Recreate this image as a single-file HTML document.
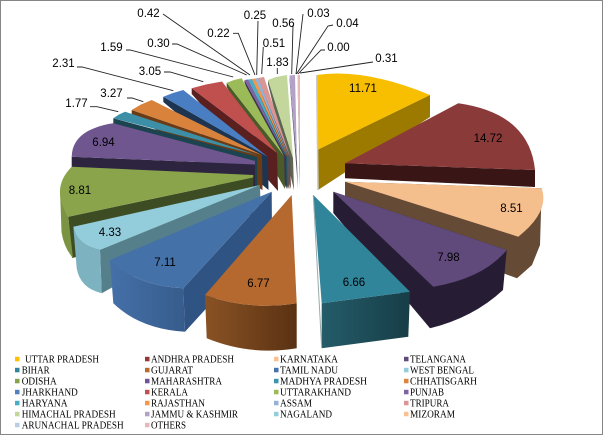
<!DOCTYPE html>
<html><head><meta charset="utf-8"><style>
html,body{margin:0;padding:0;background:#fff;}
svg{display:block;}
.l{font-family:"Liberation Sans",sans-serif;font-size:11.5px;fill:#000;}
.g{font-family:"Liberation Serif",serif;font-size:11px;fill:#000;}
</style></head><body>
<svg width="603" height="435" viewBox="0 0 603 435" xmlns="http://www.w3.org/2000/svg">
<defs>
<linearGradient id="gj" x1="0" y1="0" x2="1" y2="0"><stop offset="0" stop-color="#8A5224"/><stop offset="1" stop-color="#5A3213"/></linearGradient>
<linearGradient id="bh" x1="0" y1="0" x2="1" y2="0"><stop offset="0" stop-color="#245C69"/><stop offset="1" stop-color="#173D47"/></linearGradient>
<linearGradient id="tn" x1="0" y1="0" x2="1" y2="0"><stop offset="0" stop-color="#4470A8"/><stop offset="1" stop-color="#375C8C"/></linearGradient>
</defs>
<rect x="0.5" y="0.5" width="602" height="434" fill="#fff" stroke="#868686"/>

<!-- back fan -->
<polygon points="297.5,78 300,168 300,188 297.5,80" fill="#6f5f60"/>
<polygon points="297.5,75 300,75 300,168" fill="#E6B9B8"/>
<polygon points="289.5,75.5 297,162 298,189 289.5,79" fill="#5c566a"/>
<polygon points="289.5,75.5 295,75 297,162" fill="#B3A2C7"/>
<polygon points="268,80 293,158 294,190 268,84" fill="#5d6650"/>
<polygon points="268,80 276,77 287,75 293,158" fill="#C3D69B"/>
<polygon points="258,78 290,157 291,189 258,81" fill="#6e4a4a"/>
<polygon points="258,78 264,77 290,157" fill="#D99694"/>
<polygon points="255,78.5 289,157 289.5,189 255,81" fill="#4b5a6c"/>
<polygon points="255,78.5 258,78 289,157" fill="#95B3D7"/>
<polygon points="252,79 288,157 288.5,189 252,81.5" fill="#7a4a22"/>
<polygon points="252,79 255,78.5 288,157" fill="#F79646"/>
<polygon points="248,79.5 287,157 287.5,189 248,82" fill="#255660"/>
<polygon points="248,79.5 252,79 287,157" fill="#4BACC6"/>
<polygon points="244.5,80 286,157 286.5,189 244.5,82.5" fill="#3f3250"/>
<polygon points="244.5,80 248,79.5 286,157" fill="#8064A2"/>
<polygon points="226.7,82.7 284,156 285,189 226.7,87" fill="#4a5a28"/>
<polygon points="226.7,82.7 234,80 241.7,78.3 284,156" fill="#9BBB59"/>
<polygon points="191.7,88.3 277,153 278,191 191.7,94" fill="#5a1f1f"/>
<polygon points="191.7,88.3 206,84.5 222,81.5 277,153" fill="#C0504D"/>
<polygon points="163.3,96.7 268,157 268.5,190 163.3,102" fill="#1D3550"/>
<polygon points="163.3,96.7 173,93 183.3,90 268,157" fill="#4A7EC2"/>
<polygon points="131.7,110 262,155 262.5,190 131.7,116" fill="#6A3B15"/>
<polygon points="131.7,110 141,104.5 151.7,100 262,155" fill="#D8823C"/>
<polygon points="113.3,118.3 257,157 257.5,190 113.3,125" fill="#1C4450"/>
<polygon points="113.3,118.3 119,114.5 125,111.7 257,155" fill="#3C8FA6"/>
<polygon points="71.7,156.7 255,164.5 255,190 71.7,168" fill="#2D2540"/>
<path d="M71.7,156.7 Q72,140 88,131 Q100,125 113.3,123.3 L255,161 L255,164.5 Z" fill="#6F568F"/>
<polygon points="68.3,216.7 253.3,177.5 253.5,215 72,258" fill="#3D4C22"/>
<path d="M60,190 Q61,205 68.3,216.7 L73,258 Q64,248 61.5,232 Z" fill="#7B9443"/>
<path d="M71.7,166.7 L253.3,175 L253.3,177.5 L68.3,216.7 Q50,188.3 71.7,166.7 Z" fill="#8AA44B"/>
<polygon points="260,185 260.5,205 101.7,293.3 100,250" fill="#557F8B"/>
<path d="M73.3,226.7 Q76.75,245 100,250 L101.7,293.3 Q80,288 76.7,268.3 Z" fill="#7DB2C1"/>
<path d="M260,185 L100,250 Q76.75,245 73.3,226.7 Z" fill="#93CDDC"/>
<polygon points="271.7,191.7 272,236 185,331.7 183.3,288.3" fill="#2F5382"/>
<path d="M110,260 Q136.75,285.85 183.3,288.3 L185,331.7 Q140,329 113.3,303.3 Z" fill="url(#tn)"/>
<path d="M271.7,191.7 L183.3,288.3 Q136.75,285.85 110,260 Z" fill="#4571A9"/>
<path d="M205,295 Q249.2,310.9 296.7,303.3 L296.7,348.3 Q250,356 206.7,338.3 Z" fill="url(#gj)"/>
<path d="M291.7,195 L296.7,303.3 Q249.2,310.9 205,295 Z" fill="#B5692F"/>

<!-- right side -->
<polygon points="430,95 430,117 318,190 317,150" fill="#9C7A00"/>
<path d="M316.7,75 Q365,68 430,95 L317,150 Z" fill="#F8BE00"/>
<line x1="316.7" y1="75" x2="318" y2="190" stroke="#c8c8c8" stroke-width="1.5"/>
<polygon points="345,163.3 535,170 535,187 345,178.3" fill="#3A1515"/>
<path d="M345,163.3 L458.3,103.3 Q529.4,113.4 535,170 Z" fill="#8B3A3A"/>
<polygon points="345,181.7 541.7,188.3 540,245 532,265 517,278.3 500,272 345,205" fill="#654A36"/>
<path d="M345,181.7 L541.7,188.3 Q550,211.5 518.3,236.7 Z" fill="#F5BE8D"/>
<path d="M333.3,191.7 L333.3,213 L430,328.3 Q473.5,317.5 503,290 L506.7,250 Z" fill="#261D35"/>
<path d="M333.3,191.7 L506.7,250 Q483.4,278.3 433.3,286.7 Z" fill="#5F4A7B"/>
<polygon points="321.7,303.3 410,291.7 408.3,336.7 321.7,348.3" fill="url(#bh)"/>
<polygon points="313.3,195 410,291.7 321.7,303.3" fill="#31859B"/>
<line x1="313.3" y1="195" x2="321.7" y2="348" stroke="#9aa" stroke-width="1"/>

<!-- leader lines -->
<g stroke="#222" stroke-width="0.9" fill="none">
<polyline points="163,14 250,75"/>
<polyline points="258,21 256.7,75"/>
<polyline points="293,25 291.7,74"/>
<polyline points="303,14 296,74"/>
<polyline points="333,25 328,26 296.5,74"/>
<polyline points="325,50 321,50 298,74"/>
<polyline points="373,62 300,73"/>
<polyline points="233,33.3 238.3,33.3 255,75"/>
<polyline points="263.3,47 261.7,74"/>
<polyline points="172,44 177,44 246.7,75"/>
<polyline points="126,50 130,50 233.3,77"/>
<polyline points="277.3,68 277.3,74"/>
<polyline points="77,67 82,67 173.3,90.7"/>
<polyline points="164,72 170,72 203.3,81.7"/>
<polyline points="127,98 132,98 143.3,101.7"/>
<polyline points="90,106.7 97,106.7 118.3,111.7"/>
</g>

<!-- outside labels -->
<g class="l">
<text x="148.5" y="17" text-anchor="middle">0.42</text>
<text x="255" y="19" text-anchor="middle">0.25</text>
<text x="283.5" y="27" text-anchor="middle">0.56</text>
<text x="318.5" y="17" text-anchor="middle">0.03</text>
<text x="347.5" y="27" text-anchor="middle">0.04</text>
<text x="338.5" y="51" text-anchor="middle">0.00</text>
<text x="386.5" y="62" text-anchor="middle">0.31</text>
<text x="218.5" y="37" text-anchor="middle">0.22</text>
<text x="274" y="47" text-anchor="middle">0.51</text>
<text x="158.5" y="47" text-anchor="middle">0.30</text>
<text x="111.5" y="51" text-anchor="middle">1.59</text>
<text x="277.5" y="66" text-anchor="middle">1.83</text>
<text x="63.5" y="67" text-anchor="middle">2.31</text>
<text x="150" y="75" text-anchor="middle">3.05</text>
<text x="111.5" y="97" text-anchor="middle">3.27</text>
<text x="76.5" y="107" text-anchor="middle">1.77</text>
<!-- inside labels -->
<text x="363" y="92" text-anchor="middle">11.71</text>
<text x="488" y="142" text-anchor="middle">14.72</text>
<text x="511.5" y="212" text-anchor="middle">8.51</text>
<text x="448.5" y="261" text-anchor="middle">7.98</text>
<text x="354" y="286" text-anchor="middle">6.66</text>
<text x="80" y="194" text-anchor="middle">8.81</text>
<text x="110" y="236" text-anchor="middle">4.33</text>
<text x="165" y="266" text-anchor="middle">7.11</text>
<text x="258.5" y="287" text-anchor="middle">6.77</text>
<text x="103.5" y="146" text-anchor="middle">6.94</text>
</g>

<!-- legend -->
<g>
<rect x="15" y="356.8" width="4.5" height="4.5" fill="#FFC000"/>
<rect x="145" y="356.8" width="4.5" height="4.5" fill="#953735"/>
<rect x="274" y="356.8" width="4.5" height="4.5" fill="#FAC090"/>
<rect x="404" y="356.8" width="4.5" height="4.5" fill="#604A7B"/>
<rect x="15" y="367.8" width="4.5" height="4.5" fill="#31859C"/>
<rect x="145" y="367.8" width="4.5" height="4.5" fill="#B86B2E"/>
<rect x="274" y="367.8" width="4.5" height="4.5" fill="#4572A7"/>
<rect x="404" y="367.8" width="4.5" height="4.5" fill="#93CDDD"/>
<rect x="15" y="378.8" width="4.5" height="4.5" fill="#86A34B"/>
<rect x="145" y="378.8" width="4.5" height="4.5" fill="#6F5597"/>
<rect x="274" y="378.8" width="4.5" height="4.5" fill="#3C93AB"/>
<rect x="404" y="378.8" width="4.5" height="4.5" fill="#DB843D"/>
<rect x="15" y="389.8" width="4.5" height="4.5" fill="#4F81BD"/>
<rect x="145" y="389.8" width="4.5" height="4.5" fill="#C0504D"/>
<rect x="274" y="389.8" width="4.5" height="4.5" fill="#9BBB59"/>
<rect x="404" y="389.8" width="4.5" height="4.5" fill="#8064A2"/>
<rect x="15" y="400.8" width="4.5" height="4.5" fill="#4BACC6"/>
<rect x="145" y="400.8" width="4.5" height="4.5" fill="#F79646"/>
<rect x="274" y="400.8" width="4.5" height="4.5" fill="#95B3D7"/>
<rect x="404" y="400.8" width="4.5" height="4.5" fill="#D99694"/>
<rect x="15" y="411.8" width="4.5" height="4.5" fill="#C3D69B"/>
<rect x="145" y="411.8" width="4.5" height="4.5" fill="#B3A2C7"/>
<rect x="274" y="411.8" width="4.5" height="4.5" fill="#93CDDD"/>
<rect x="404" y="411.8" width="4.5" height="4.5" fill="#FAC090"/>
<rect x="15" y="422.8" width="4.5" height="4.5" fill="#B9CDE5"/>
<rect x="145" y="422.8" width="4.5" height="4.5" fill="#E6B9B8"/>
</g>
<g class="g">
<text x="25" y="362.5" textLength="74" lengthAdjust="spacingAndGlyphs">UTTAR PRADESH</text>
<text x="151" y="362.5" textLength="83" lengthAdjust="spacingAndGlyphs">ANDHRA PRADESH</text>
<text x="280" y="362.5" textLength="58" lengthAdjust="spacingAndGlyphs">KARNATAKA</text>
<text x="410" y="362.5" textLength="56" lengthAdjust="spacingAndGlyphs">TELANGANA</text>
<text x="21.7" y="373.5" textLength="28" lengthAdjust="spacingAndGlyphs">BIHAR</text>
<text x="151" y="373.5" textLength="42" lengthAdjust="spacingAndGlyphs">GUJARAT</text>
<text x="280" y="373.5" textLength="58" lengthAdjust="spacingAndGlyphs">TAMIL NADU</text>
<text x="410" y="373.5" textLength="64" lengthAdjust="spacingAndGlyphs">WEST BENGAL</text>
<text x="21.7" y="384.5" textLength="35" lengthAdjust="spacingAndGlyphs">ODISHA</text>
<text x="151" y="384.5" textLength="71" lengthAdjust="spacingAndGlyphs">MAHARASHTRA</text>
<text x="280" y="384.5" textLength="87" lengthAdjust="spacingAndGlyphs">MADHYA PRADESH</text>
<text x="410" y="384.5" textLength="67" lengthAdjust="spacingAndGlyphs">CHHATISGARH</text>
<text x="21.7" y="395.5" textLength="56" lengthAdjust="spacingAndGlyphs">JHARKHAND</text>
<text x="151" y="395.5" textLength="37" lengthAdjust="spacingAndGlyphs">KERALA</text>
<text x="280" y="395.5" textLength="71" lengthAdjust="spacingAndGlyphs">UTTARAKHAND</text>
<text x="410" y="395.5" textLength="34" lengthAdjust="spacingAndGlyphs">PUNJAB</text>
<text x="21.7" y="406.5" textLength="46" lengthAdjust="spacingAndGlyphs">HARYANA</text>
<text x="151" y="406.5" textLength="54" lengthAdjust="spacingAndGlyphs">RAJASTHAN</text>
<text x="280" y="406.5" textLength="32" lengthAdjust="spacingAndGlyphs">ASSAM</text>
<text x="410" y="406.5" textLength="39" lengthAdjust="spacingAndGlyphs">TRIPURA</text>
<text x="21.7" y="417.5" textLength="94" lengthAdjust="spacingAndGlyphs">HIMACHAL PRADESH</text>
<text x="151" y="417.5" textLength="87" lengthAdjust="spacingAndGlyphs">JAMMU &amp; KASHMIR</text>
<text x="280" y="417.5" textLength="52" lengthAdjust="spacingAndGlyphs">NAGALAND</text>
<text x="410" y="417.5" textLength="45" lengthAdjust="spacingAndGlyphs">MIZORAM</text>
<text x="21.7" y="428.5" textLength="102" lengthAdjust="spacingAndGlyphs">ARUNACHAL PRADESH</text>
<text x="151" y="428.5" textLength="35" lengthAdjust="spacingAndGlyphs">OTHERS</text>
</g>
</svg>
</body></html>
